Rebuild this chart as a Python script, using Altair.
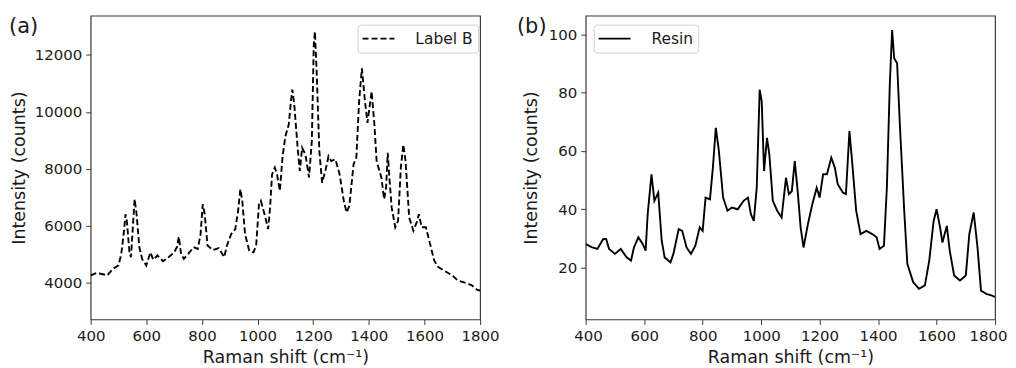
import altair as alt
import pandas as pd

# ---- Panel (a): Label B (dashed) ----
shift_a = [400,420,440,460,480,500,510,520,525,530,
           540,545,550,558,565,575,585,600,615,625,
           640,660,680,700,710,717,725,735,750,770,
           785,795,803,810,820,840,860,880,890,905,
           920,930,938,945,955,970,985,995,1005,1012,
           1025,1038,1045,1052,1062,1070,1080,1090,1100,1112,
           1120,1125,1132,1145,1152,1160,1172,1185,1195,1202,
           1206,1212,1222,1232,1245,1255,1265,1280,1295,1310,
           1320,1330,1345,1355,1365,1375,1385,1395,1410,1420,
           1428,1445,1455,1462,1468,1473,1482,1495,1505,1515,
           1524,1532,1545,1560,1572,1580,1590,1605,1620,1635,
           1650,1670,1700,1720,1750,1770,1790,1800]
counts_a = [4250,4330,4300,4250,4480,4600,5000,5820,6400,6170,
            5000,4890,5700,6930,6400,5240,4830,4600,5060,4800,
            4950,4750,4890,5060,5240,5610,5000,4830,5000,5240,
            5180,5700,6750,6400,5300,5140,5210,4890,5300,5700,
            5880,6520,7280,6870,5700,5120,5060,5300,6750,6870,
            6400,5880,6640,7800,8040,7800,7220,8440,9140,9550,
            10370,10780,10250,8620,7920,8740,8500,7690,8970,12350,
            12820,11530,8620,7510,7980,8440,8270,8330,7800,6870,
            6460,6700,8150,8390,10370,11530,10480,9610,10720,9550,
            8270,7690,6930,7340,8560,7800,6640,5940,6170,8040,
            8850,8270,6290,5820,6110,6400,5940,5940,5360,4770,
            4540,4420,4250,4070,3980,3900,3740,3720]

# ---- Panel (b): Resin (solid) ----
shift_b = [400,420,440,460,470,480,500,520,540,555,
           565,580,595,605,612,625,635,648,660,670,
           690,700,718,730,745,760,775,790,800,810,
           825,835,845,855,870,885,900,920,940,955,
           965,975,985,995,1002,1010,1020,1028,1040,1055,
           1070,1085,1095,1105,1115,1125,1135,1145,1160,1175,
           1190,1200,1212,1225,1240,1252,1262,1280,1290,1302,
           1312,1325,1340,1360,1380,1395,1405,1420,1430,1440,
           1448,1455,1465,1475,1490,1500,1520,1540,1560,1575,
           1590,1600,1612,1620,1635,1645,1660,1680,1700,1712,
           1727,1740,1752,1770,1790,1800]
counts_b = [28.1,27.0,26.4,29.8,29.8,26.4,24.7,26.4,23.5,22.4,
            26.9,30.4,28.1,25.8,38.3,52.0,42.9,45.7,29.2,23.5,
            21.8,24.7,33.2,32.6,26.9,24.7,27.5,33.8,32.6,44.0,
            43.4,54.3,67.9,60.5,44.0,39.5,40.6,40.0,42.9,44.0,
            38.3,36.0,47.4,81.0,77.0,53.1,64.5,58.8,42.9,39.5,
            37.2,50.8,45.2,46.2,56.5,46.2,33.8,26.9,34.9,41.7,
            47.4,44.0,52.0,52.0,57.7,54.3,48.6,45.7,45.2,66.8,
            55.4,39.5,31.5,32.6,31.5,30.4,26.4,27.5,47.4,82.7,
            101.5,91.8,90.1,67.9,38.3,21.3,15.0,12.7,13.9,22.4,
            36.0,40.0,33.8,28.6,34.3,25.8,17.3,15.6,17.3,31.5,
            38.9,26.9,12.1,11.0,10.4,9.9]

x_ticks = [400, 600, 800, 1000, 1200, 1400, 1600, 1800]
y_ticks_a = [4000, 6000, 8000, 10000, 12000]
y_ticks_b = [20, 40, 60, 80, 100]

FONT = "DejaVu Sans"
TXT = "#1a1a1a"
AX = "#3a3a3a"
H = 305


def panel(xs, ys, series, ydom, yticks, width, dash, legx, ytitle_x, tag, tag_x, flush):
    df = pd.DataFrame({"shift": xs, "intensity": ys, "series": [series] * len(xs)})
    mark_kw = dict(strokeWidth=1.9, clip=True)
    leg_kw = dict(
        title=None, orient="none", legendX=legx, legendY=9,
        symbolType="M-2,0H2", symbolStrokeWidth=1.9, symbolSize=256,
        symbolStrokeColor="black", symbolFillColor="transparent", symbolOffset=7,
        labelFont=FONT, labelFontSize=15.5, labelColor=TXT, labelOffset=28,
        padding=5, fillColor="white", strokeColor="#d0d0d0", cornerRadius=3,
    )
    if dash:
        mark_kw["strokeDash"] = dash
        leg_kw["symbolDash"] = dash
    xaxis_kw = dict(values=x_ticks, title="Raman shift (cm⁻¹)", format="d",
                    labelOverlap=False, titleX=width / 2, titleY=38,
                    titleAlign="center", titleBaseline="middle")
    if flush:
        xaxis_kw.update(labelFlush=True, labelFlushOffset=12)
    else:
        xaxis_kw.update(labelFlush=False)
    line = alt.Chart(df).mark_line(**mark_kw).encode(
        x=alt.X("shift:Q",
                scale=alt.Scale(domain=[400, 1800], nice=False, zero=False),
                axis=alt.Axis(**xaxis_kw)),
        y=alt.Y("intensity:Q",
                scale=alt.Scale(domain=ydom, nice=False, zero=False),
                axis=alt.Axis(values=yticks, title="Intensity (counts)", format="d",
                              labelFlush=False, labelOverlap=False,
                              titleX=ytitle_x, titleY=H / 2, titleAngle=270,
                              titleAlign="center", titleBaseline="middle")),
        stroke=alt.Stroke("series:N",
                          scale=alt.Scale(domain=[series], range=["black"]),
                          legend=alt.Legend(**leg_kw)),
    )
    lab = alt.Chart(pd.DataFrame({"t": [tag]})).mark_text(
        font=FONT, fontSize=21, color=TXT, align="left", baseline="middle"
    ).encode(x=alt.value(tag_x), y=alt.value(11), text="t:N")
    return alt.layer(line, lab).properties(width=width, height=H)


a = panel(shift_a, counts_a, "Label B", [2700, 13380], y_ticks_a, 391,
          [6, 3], 268, -71.5, "(a)", -82, False)
b = panel(shift_b, counts_b, "Resin", [2.2, 106.4], y_ticks_b, 411,
          None, 8, -54, "(b)", -69, True)

chart = alt.hconcat(a, b, spacing=16).resolve_scale(
    stroke="independent"
).resolve_legend(stroke="independent").properties(
    padding={"left": 0, "top": 6, "right": 0, "bottom": 0}
).configure_view(
    stroke=AX, strokeWidth=1.2
).configure_axis(
    domain=False, grid=False, ticks=True, tickColor=AX, tickSize=5, tickWidth=1,
    labelFont=FONT, labelFontSize=15, labelColor=TXT, labelPadding=4,
    titleFont=FONT, titleFontSize=17.5, titleFontWeight="normal", titleColor=TXT,
)

chart.save("out.html", embed_options={"renderer": "svg", "actions": False})
